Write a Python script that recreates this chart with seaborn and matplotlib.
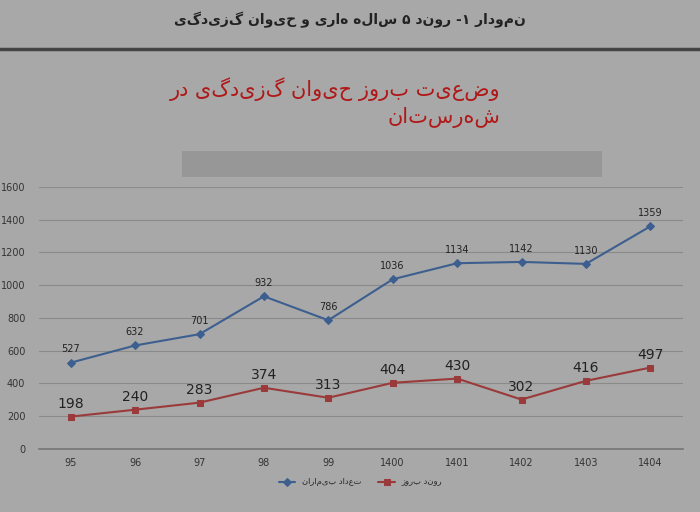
import matplotlib
matplotlib.use("Agg")
import matplotlib.pyplot as plt
import seaborn as sns
import pandas as pd

years = ["95", "96", "97", "98", "99", "1400", "1401", "1402", "1403", "1404"]
patients = [527, 632, 701, 932, 786, 1036, 1134, 1142, 1130, 1359]
incidence = [198, 240, 283, 374, 313, 404, 430, 302, 416, 497]
yticks = [0, 200, 400, 600, 800, 1000, 1200, 1400, 1600]

def vis(s):
    return s[::-1]

sns.set_theme(style="white")
plt.rcParams['font.family'] = ['DejaVu Sans']
bg = "#a8a8a8"
fig = plt.figure(figsize=(7, 5.12), dpi=100, facecolor=bg)
ax = fig.add_axes([0.055, 0.123, 0.92, 0.512], facecolor=bg)

blue, red = "#3d5f8f", "#9a3a3a"
df = pd.DataFrame({"x": range(len(years)), "patients": patients, "incidence": incidence})
sns.lineplot(data=df, x="x", y="patients", ax=ax, color=blue, marker="D", markersize=4,
             markeredgecolor=blue, linewidth=1.5, label=vis("تعداد بیماران"))
sns.lineplot(data=df, x="x", y="incidence", ax=ax, color=red, marker="s", markersize=5,
             markeredgecolor=red, linewidth=1.5, label=vis("روند بروز"))
for i, (p, q) in enumerate(zip(patients, incidence)):
    ax.text(i, p + 50, str(p), ha="center", va="bottom", fontsize=7, color="#222")
    ax.text(i, q + 35, str(q), ha="center", va="bottom", fontsize=10, color="#222")

ax.set_xlim(-0.5, len(years) - 0.5)
ax.set_ylim(0, 1600)
ax.set_yticks(yticks)
ax.set_yticklabels([str(v) for v in yticks], fontsize=7, color="#333")
ax.set_xticks(range(len(years)))
ax.set_xticklabels(years, fontsize=7, color="#333")
ax.set_xlabel("")
ax.set_ylabel("")
ax.grid(axis="y", color="#8a8a8a", linewidth=0.8)
for s in ["top", "right", "left"]:
    ax.spines[s].set_visible(False)
ax.spines["bottom"].set_color("#777")
ax.tick_params(axis="x", length=3, color="#777")
ax.legend(loc="upper center", bbox_to_anchor=(0.5, -0.08), ncol=2, frameon=False, fontsize=6)

fig.text(0.5, 0.962, vis("نمودار ۱- روند ۵ ساله هاری و حیوان گزیدگی"), ha="center", va="center",
         fontsize=10, fontweight="bold", color="#222")
fig.add_artist(plt.Line2D([0, 1], [0.905, 0.905], color="#444", linewidth=2.5))
fig.text(0.715, 0.825, vis("وضعیت بروز حیوان گزیدگی در"), ha="right", va="center", fontsize=15, color="#b01818")
fig.text(0.715, 0.77, vis("شهرستان"), ha="right", va="center", fontsize=15, color="#b01818")
fig.add_artist(plt.Rectangle((0.26, 0.655), 0.6, 0.05, transform=fig.transFigure,
                             color="#909090", alpha=0.7, linewidth=0))
fig.savefig("out.png", dpi=100, facecolor=bg)
